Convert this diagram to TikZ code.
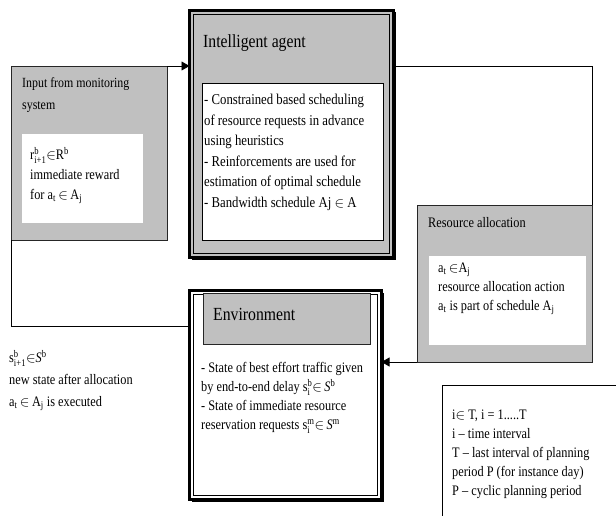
\documentclass[tikz,border=0pt]{standalone}
\usepackage{fontspec}
\setmainfont[FakeStretch=0.85]{Liberation Serif}
\usepackage{amsmath}
\usetikzlibrary{arrows.meta,shadows}
\definecolor{boxgray}{RGB}{192,192,192}
\newcommand{\supsub}[2]{\ensuremath{^{\text{#1}}_{\text{#2}}}}
\newcommand{\subx}[1]{\ensuremath{_{\text{#1}}}}
\newcommand{\supx}[1]{\ensuremath{^{\text{#1}}}}
\newcommand{\isin}{\ensuremath{\in}}

\begin{document}
\begin{tikzpicture}[x=1pt,y=-1pt, line join=miter, >={Triangle[length=8pt,width=9pt]}]
	\tikzset{graybox/.style={draw=black!85, line width=0.8pt, fill=boxgray, anchor=north west, inner sep=0pt, outer sep=0pt},
		whitebox/.style={fill=white, anchor=north west, inner sep=0pt, outer sep=0pt},
		framebox/.style={draw, line width=3pt, anchor=north west, inner sep=0pt, outer sep=0pt,
			drop shadow={shadow xshift=2pt, shadow yshift=-2pt, fill=black, opacity=1}},
		txt/.style={anchor=north west, inner sep=0pt, align=left, font=\fontsize{14.5}{20}\selectfont},
		title/.style={anchor=north west, inner sep=0pt, font=\fontsize{18.5}{22}\selectfont},
		wire/.style={line width=0.8pt}}
	\useasboundingbox (0,0) rectangle (616,516);
	% input from monitoring
	\node[graybox, minimum width=156pt, minimum height=174pt] (input) at (11,66) {};
	\node[whitebox, minimum width=121pt, minimum height=89pt] (inputw) at (22,134) {};
	\node[txt, font=\fontsize{14}{22}\selectfont] (inputt) at (22,77) {Input from monitoring\\system};
	\node[txt] (reward) at (30,147) {r\supsub{b}{i+1}\isin R\supx{b}\\immediate reward\\for a\subx{t}\,\isin\,A\subx{j}};
	% intelligent agent
	\node[framebox, fill=boxgray, minimum width=204pt, minimum height=247pt] (agent) at (189.5,10.5) {};
	\draw[thin] ([shift={(4pt,-4pt)}]agent.north west) rectangle ([shift={(-4pt,4pt)}]agent.south east);
	\node[whitebox, draw, thin, minimum width=181pt, minimum height=157pt] (agentw) at (202,83) {};
	\node[title] (agentt) at (203,34) {Intelligent agent};
	\node[txt, font=\fontsize{15}{20.5}\selectfont] (plan) at (204,94) {- Constrained based scheduling\\of resource requests in advance\\using heuristics\\- Reinforcements are used for\\estimation of optimal schedule\\- Bandwidth schedule Aj \isin\ A};
	% resource allocation
	\node[graybox, minimum width=175pt, minimum height=157pt] (res) at (417,205) {};
	\node[whitebox, minimum width=157pt, minimum height=89pt] (resw) at (429,256) {};
	\node[txt] (rest) at (428,217) {Resource allocation};
	\node[txt, font=\fontsize{14.5}{19}\selectfont] (action) at (438,263) {a\subx{t}\,\isin A\subx{j}\\resource allocation action\\a\subx{t} is part of schedule A\subx{j}};
	% environment
	\node[framebox, fill=white, minimum width=192pt, minimum height=209pt] (env) at (189.5,290.5) {};
	\draw[thin] ([shift={(4pt,-4pt)}]env.north west) rectangle ([shift={(-4pt,4pt)}]env.south east);
	\node[graybox, minimum width=167pt, minimum height=51pt] (envh) at (203,293) {};
	\node[title] (envt) at (213,308) {Environment};
	\node[txt, font=\fontsize{14.5}{19}\selectfont] (state) at (201,362) {- State of best effort traffic given\\by end-to-end delay s\supsub{b}{i}\isin\,\textit{S}\supx{b}\\- State of immediate resource\\reservation requests s\supsub{m}{i}\isin\,\textit{S}\supx{m}};
	% free texts
	\node[txt, font=\fontsize{14.5}{22}\selectfont] (newstate) at (9,350) {s\supsub{b}{i+1}\isin\textit{S}\supx{b}\\new state after allocation\\a\subx{t}\,\isin\,A\subx{j} is executed};
	\node[txt, font=\fontsize{14.5}{18.8}\selectfont] (note) at (452,410) {i\isin\ T, i = 1.....T\\i -- time interval\\T -- last interval of planning\\period P (for instance day)\\P -- cyclic planning period};
	\draw[wire] (442,516) -- (442,385) -- (616,385);
	% connectors
	\coordinate (turn) at (11,326);
	\draw[wire,->] (input.north east) -- (input.north east -| agent.west);
	\draw[wire] (input.north -| agent.east) -| (res.north east);
	\draw[wire,->] (res.south west) -- (res.south west -| env.east);
	\draw[wire] (input.south west) -- (turn) -- (turn -| env.west);
\end{tikzpicture}
\end{document}
